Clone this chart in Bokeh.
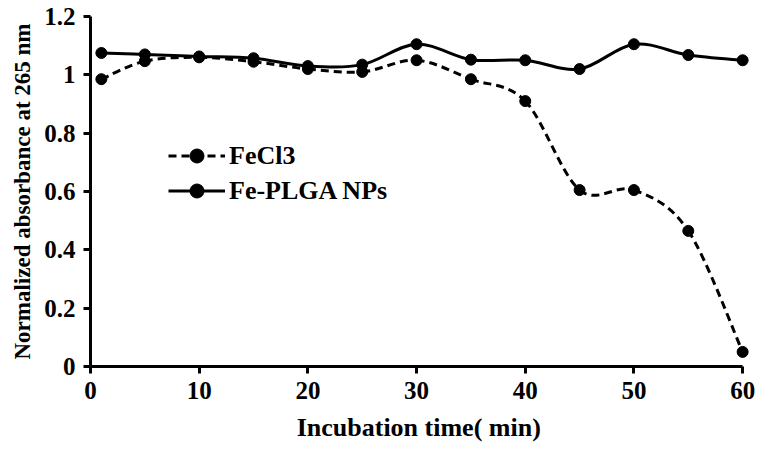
from bokeh.plotting import figure
from bokeh.models import Range1d, FixedTicker, Legend, LegendItem, ColumnDataSource
from bokeh.embed import file_html
from bokeh.resources import INLINE

time_min = [1, 5, 10, 15, 20, 25, 30, 35, 40, 45, 50, 55, 60]
fecl3 = [0.985, 1.047, 1.06, 1.045, 1.02, 1.01, 1.05, 0.985, 0.91, 0.605, 0.605, 0.465, 0.05]
fe_plga = [1.075, 1.07, 1.063, 1.057, 1.03, 1.035, 1.105, 1.052, 1.05, 1.02, 1.105, 1.068, 1.05]

x_ticks = [0, 10, 20, 30, 40, 50, 60]
y_ticks = [0, 0.2, 0.4, 0.6, 0.8, 1.0, 1.2]
y_tick_labels = ["0", "0.2", "0.4", "0.6", "0.8", "1", "1.2"]

FONT = "Liberation Serif"


def smooth_segments(xs, ys):
    n = len(xs)
    d = dict(x0=[], y0=[], x1=[], y1=[], cx0=[], cy0=[], cx1=[], cy1=[])
    for i in range(n - 1):
        a = i - 1 if i > 0 else i
        b = i + 2 if i + 2 < n else i + 1
        d["x0"].append(xs[i]); d["y0"].append(ys[i])
        d["x1"].append(xs[i + 1]); d["y1"].append(ys[i + 1])
        d["cx0"].append(xs[i] + (xs[i + 1] - xs[a]) / 6)
        d["cy0"].append(ys[i] + (ys[i + 1] - ys[a]) / 6)
        d["cx1"].append(xs[i + 1] - (xs[b] - xs[i]) / 6)
        d["cy1"].append(ys[i + 1] - (ys[b] - ys[i]) / 6)
    return ColumnDataSource(d)


p = figure(width=764, height=444, output_backend="svg", toolbar_location=None,
           x_range=Range1d(0, 61), y_range=Range1d(0, 1.2),
           min_border_left=90, min_border_right=11, min_border_top=16, min_border_bottom=70)
p.outline_line_color = None
p.grid.visible = False
p.background_fill_color = "white"
# range used only so that the legend's line samples have a renderer; its lines fall outside the frame
p.extra_y_ranges = {"legend_only": Range1d(10, 11)}

DASH = "8 5"

# FeCl3 dashed
p.bezier(x0="x0", y0="y0", x1="x1", y1="y1", cx0="cx0", cy0="cy0", cx1="cx1", cy1="cy1",
         source=smooth_segments(time_min, fecl3), line_color="black", line_width=3, line_dash=DASH)
s1 = p.scatter(time_min, fecl3, size=11, color="black")
# Fe-PLGA solid
p.bezier(x0="x0", y0="y0", x1="x1", y1="y1", cx0="cx0", cy0="cy0", cx1="cx1", cy1="cy1",
         source=smooth_segments(time_min, fe_plga), line_color="black", line_width=3)
s2 = p.scatter(time_min, fe_plga, size=11, color="black")

l1 = p.line(time_min, fecl3, line_color="black", line_width=3, line_dash=DASH, y_range_name="legend_only")
l2 = p.line(time_min, fe_plga, line_color="black", line_width=3, y_range_name="legend_only")

legend = Legend(items=[LegendItem(label="FeCl3", renderers=[l1, s1]),
                       LegendItem(label="Fe-PLGA NPs", renderers=[l2, s2])],
                location=(78, 158), border_line_color=None, background_fill_alpha=0,
                glyph_width=57, glyph_height=35, label_height=35, spacing=0, padding=0, margin=0,
                label_standoff=4, label_text_font=FONT, label_text_font_style="bold",
                label_text_font_size="26px", label_text_color="black")
p.add_layout(legend, "center")

for ax in (p.xaxis[0], p.yaxis[0]):
    ax.axis_line_width = 3
    ax.axis_line_color = "black"
    ax.major_tick_line_width = 3
    ax.major_tick_out = 7
    ax.major_tick_in = 0
    ax.minor_tick_line_color = None
    ax.major_label_text_font = FONT
    ax.major_label_text_font_style = "bold"
    ax.major_label_text_font_size = "25px"
    ax.major_label_text_color = "black"
    ax.axis_label_text_font = FONT
    ax.axis_label_text_font_style = "bold"
    ax.axis_label_text_color = "black"

p.xaxis.ticker = FixedTicker(ticks=x_ticks)
p.xaxis.bounds = (0, 60)
p.xaxis.axis_label = "Incubation  time( min)"
p.xaxis.axis_label_text_font_size = "26px"
p.xaxis.major_label_standoff = 8
p.xaxis.axis_label_standoff = 11

p.yaxis.ticker = FixedTicker(ticks=y_ticks)
p.yaxis.major_label_overrides = {t: lab for t, lab in zip(y_ticks, y_tick_labels)}
p.yaxis.axis_label = "Normalized absorbance at 265 nm"
p.yaxis.axis_label_text_font_size = "23px"
p.yaxis.major_label_standoff = 8
p.yaxis.axis_label_standoff = 6

open("out.html", "w").write(file_html(p, INLINE))
